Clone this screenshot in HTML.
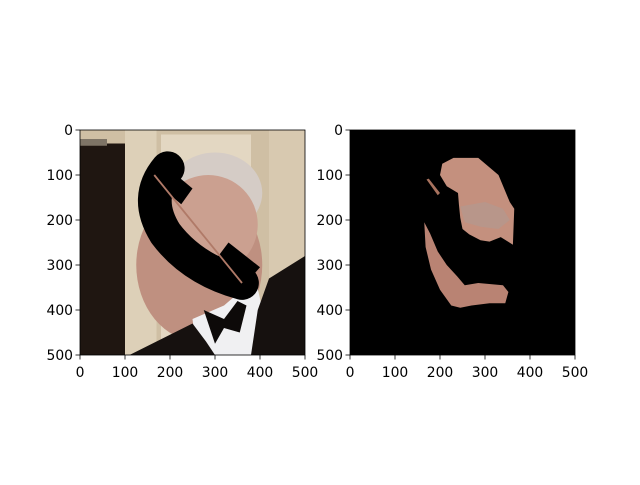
<!DOCTYPE html>
<html><head><meta charset="utf-8"><style>
body{margin:0;background:#fff}
svg text{font-family:"DejaVu Sans","Liberation Sans",sans-serif;font-size:13.9px;fill:#000}
</style></head><body>
<svg width="640" height="480" viewBox="0 0 640 480">
<rect width="640" height="480" fill="#fff"/>
<defs><clipPath id="c"><rect x="0" y="0" width="500" height="500"/></clipPath></defs>
<!-- left image -->
<g transform="translate(80,130) scale(0.45)" clip-path="url(#c)">
<rect width="500" height="500" fill="#cfbfa4"/>
<rect x="100" y="0" width="70" height="500" fill="#ddd0b8"/>
<rect x="180" y="10" width="200" height="490" fill="#e3d7c2"/>
<rect x="420" y="0" width="80" height="500" fill="#d8c9b0"/>
<rect x="0" y="30" width="100" height="470" fill="#1f1611"/>
<rect x="0" y="20" width="60" height="15" fill="#7e7466"/>
<ellipse cx="265" cy="300" rx="140" ry="170" fill="#bf9080"/>
<ellipse cx="300" cy="140" rx="105" ry="90" fill="#d5ccc6"/>
<ellipse cx="285" cy="210" rx="110" ry="110" fill="#cba090"/>
<polygon points="250,420 320,390 390,330 410,420 390,500 260,500" fill="#f0f0f2"/>
<polygon points="110,500 250,430 280,470 300,500" fill="#16110f"/>
<polygon points="380,500 395,400 420,330 500,280 500,500" fill="#16110f"/>
<polygon points="275,400 320,420 350,380 370,390 355,450 320,440 300,475" fill="#0d0a09"/>
<path d="M195,85 Q140,150 190,230 Q250,310 360,340" stroke="#000" stroke-width="75" fill="none" stroke-linecap="round"/>
<polygon points="190,80 250,130 225,165 165,115" fill="#000"/>
<polygon points="330,250 400,305 365,345 300,290" fill="#000"/>
<line x1="165" y1="100" x2="360" y2="340" stroke="#b07a68" stroke-width="4"/>
</g>
<!-- right image -->
<g transform="translate(350,130) scale(0.45)" clip-path="url(#c)">
<rect width="500" height="500" fill="#000"/>
<polygon points="205,75 230,62 285,62 330,100 355,160 365,175 362,255 335,238 310,248 290,245 265,232 250,220 245,195 242,165 240,140 215,125 200,100" fill="#c4907e"/>
<polygon points="245,170 300,160 340,175 355,200 330,220 290,215 255,205" fill="#b8968a"/>
<polygon points="165,205 178,230 195,270 215,300 238,325 255,345 285,340 340,345 352,360 345,385 310,385 270,390 245,395 225,390 200,355 180,310 168,260" fill="#b98373"/>
<polygon points="170,110 175,108 200,140 195,145" fill="#a8725e"/>
</g>
<!-- axes frames -->
<rect x="80" y="130" width="225" height="225" fill="none" stroke="#000" stroke-width="0.8"/>
<rect x="350" y="130" width="225" height="225" fill="none" stroke="#000" stroke-width="0.8"/>
<g id="ticks" stroke="#000" stroke-width="0.8"></g>
<g id="labels"></g>
</svg>
<script>
const tickValues=[0,100,200,300,400,500];
const axesLeft=[80,350];
const sv='http://www.w3.org/2000/svg';
const tg=document.getElementById('ticks'),lg=document.getElementById('labels');
axesLeft.forEach(function(ax){
 tickValues.forEach(function(v){
  const p=v*0.45;
  let l=document.createElementNS(sv,'line');
  l.setAttribute('x1',ax+p);l.setAttribute('x2',ax+p);l.setAttribute('y1',355);l.setAttribute('y2',359.5);
  
  
  tg.appendChild(l);
  let t=document.createElementNS(sv,'text');
  t.setAttribute('x',ax+p);t.setAttribute('y',377);t.setAttribute('text-anchor','middle');t.textContent=v;
  
  
  lg.appendChild(t);
  let l2=document.createElementNS(sv,'line');
  l2.setAttribute('x1',ax-4.5);l2.setAttribute('x2',ax);l2.setAttribute('y1',130+p);l2.setAttribute('y2',130+p);
  
  
  tg.appendChild(l2);
  let t2=document.createElementNS(sv,'text');
  t2.setAttribute('x',ax-7);t2.setAttribute('y',135+p);t2.setAttribute('text-anchor','end');t2.textContent=v;
  
  
  lg.appendChild(t2);
 });
});
</script>
</body></html>
